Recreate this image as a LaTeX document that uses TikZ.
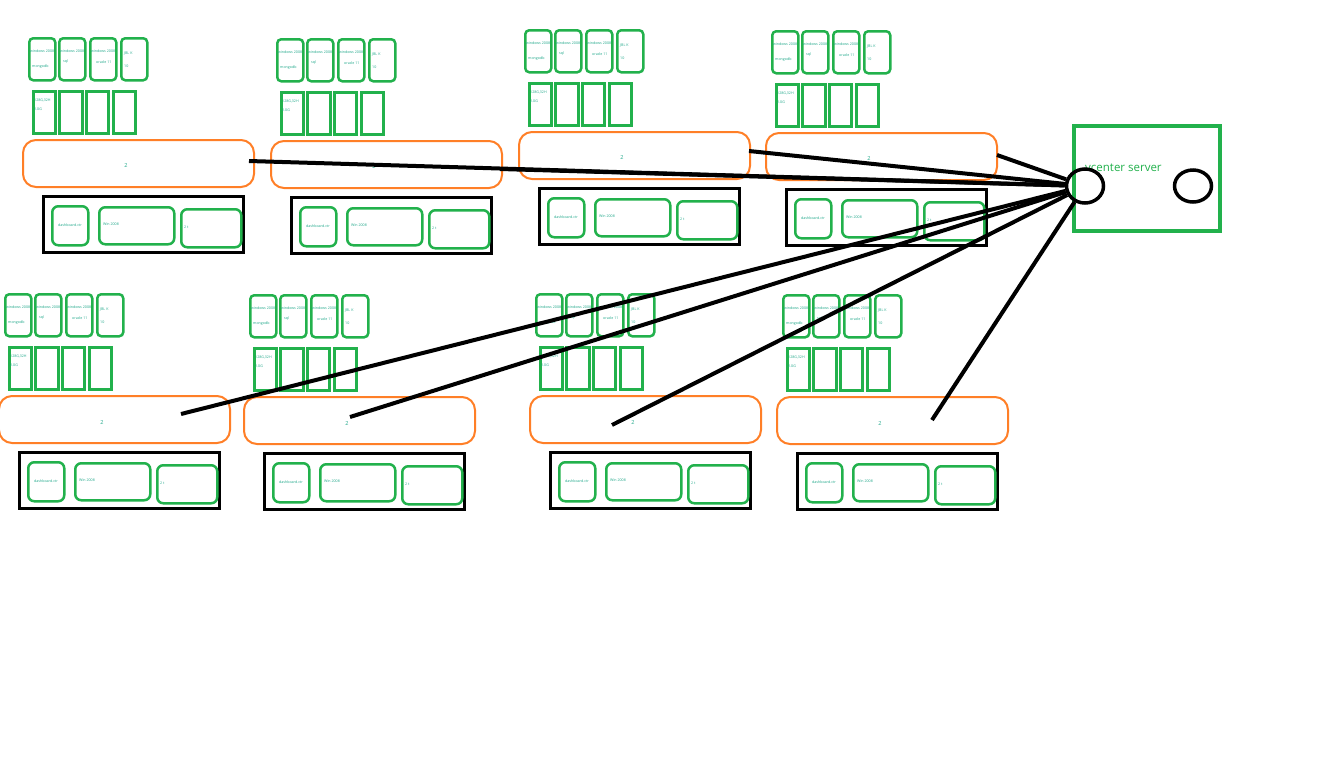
\documentclass[tikz,border=0pt]{standalone}
\usepackage{fontspec}
\usetikzlibrary{shapes.geometric}
\setmainfont{Open Sans}
\definecolor{pgreen}{HTML}{22B14C}
\definecolor{porange}{HTML}{FF7F27}
\definecolor{ptext}{HTML}{1FA88A}
\tikzset{
  card/.style={draw=pgreen,line width=2.5pt,rounded corners=4pt,anchor=north west,inner sep=0pt,minimum width=26pt,minimum height=42pt},
  vmbox/.style={draw=pgreen,line width=2.5pt,anchor=north west,inner sep=0pt,minimum width=22pt,minimum height=42pt},
  hostbox/.style={draw=porange,line width=2pt,rounded corners=13pt,anchor=north west,inner sep=0pt,minimum width=231pt,minimum height=47pt},
  storebox/.style={draw=black,line width=3pt,anchor=north west,inner sep=0pt,minimum width=200pt,minimum height=56pt},
  svc/.style={draw=pgreen,line width=2.5pt,rounded corners=6pt,anchor=north west,inner sep=0pt},
  tiny/.style={text=ptext,font=\fontsize{3.6}{4}\selectfont,anchor=west,inner sep=0pt},
  small/.style={text=ptext,font=\fontsize{5.5}{6}\selectfont,inner sep=0pt},
  link/.style={draw=black,line width=4pt},
}
\newcommand\unitgrp[3]{%
\begin{scope}[shift={(#2,#3)}]
  \node[card] (#1c1) at (6,-102) {};
  \node[card] (#1c2) at (36,-102) {};
  \node[card] (#1c3) at (67,-102) {};
  \node[card] (#1c4) at (98,-102) {};
  \node[tiny] (#1t1a) at (8,-88) {windows 2008};
  \node[tiny] (#1t1b) at (10,-72) {mongodb};
  \node[tiny] (#1t2a) at (38,-88) {windows 2008};
  \node[tiny] (#1t2b) at (41,-77) {sql};
  \node[tiny] (#1t3a) at (69,-88) {windows 2008};
  \node[tiny] (#1t3b) at (74,-77) {oracle 11};
  \node[tiny] (#1t4a) at (102,-85) {JBL K};
  \node[tiny] (#1t4b) at (102,-73) {10};
  \node[vmbox] (#1v1) at (10,-49) {};
  \node[vmbox,minimum width=23pt] (#1v2) at (36,-49) {};
  \node[vmbox] (#1v3) at (63,-49) {};
  \node[vmbox] (#1v4) at (90,-49) {};
  \node[tiny] (#1tv1) at (12,-39) {128G,32H};
  \node[tiny] (#1tv2) at (12,-30) {2.0G};
  \node[hostbox] (#1h) at (0,0) {};
  \node[small] (#1hl) at (104,27) {2};
  \node[storebox] (#1s) at (20,56) {};
  \node[svc,minimum width=36pt,minimum height=39pt] (#1s1) at (29,66) {};
  \node[svc,minimum width=75pt,minimum height=37pt] (#1s2) at (76,67) {};
  \node[svc,minimum width=60pt,minimum height=38pt] (#1s3) at (158,69) {};
  \node[tiny] (#1ts1) at (36,86) {dashboard.ctr};
  \node[tiny] (#1ts2) at (81,85) {Win 2008};
  \node[tiny] (#1ts3) at (162,88) {2 t};
\end{scope}}
\begin{document}
\begin{tikzpicture}[x=1pt,y=-1pt]
\useasboundingbox[fill=white] (0,0) rectangle (1341,756);
\unitgrp{a}{22}{139}
\unitgrp{b}{270}{140}
\unitgrp{c}{518}{131}
\unitgrp{d}{765}{132}
\unitgrp{e}{-2}{395}
\unitgrp{f}{243}{396}
\unitgrp{g}{529}{395}
\unitgrp{h}{776}{396}
% server
\node[draw=pgreen,line width=4pt,anchor=north west,inner sep=0pt,minimum width=146pt,minimum height=105pt] (srv) at (1072,124) {};
\node[text=pgreen,font=\fontsize{11.5}{13}\selectfont,anchor=west,inner sep=0pt] (srvl) at (1085,168) {vcenter server};
\node[draw=black,line width=3.5pt,ellipse,minimum width=37pt,minimum height=34pt,inner sep=0pt] (c1) at (1085,186) {};
\node[draw=black,line width=3.5pt,ellipse,minimum width=37pt,minimum height=32pt,inner sep=0pt] (c2) at (1193,186) {};
% link start points
\coordinate (pa) at (249,161);
\coordinate (pb) at (500,169);
\coordinate (pc) at (749,151);
\coordinate (pd) at (997,155);
\coordinate (pe) at (181,414);
\coordinate (pf) at (350,417);
\coordinate (pg) at (612,425);
\coordinate (ph) at (932,420);
\draw[link] (pa) -- (c1);
\draw[link] (pb) -- (c1);
\draw[link] (pc) -- (c1);
\draw[link] (pd) -- (c1);
\draw[link] (pe) -- (c1);
\draw[link] (pf) -- (c1);
\draw[link] (pg) -- (c1);
\draw[link] (ph) -- (c1);
\end{tikzpicture}
\end{document}
